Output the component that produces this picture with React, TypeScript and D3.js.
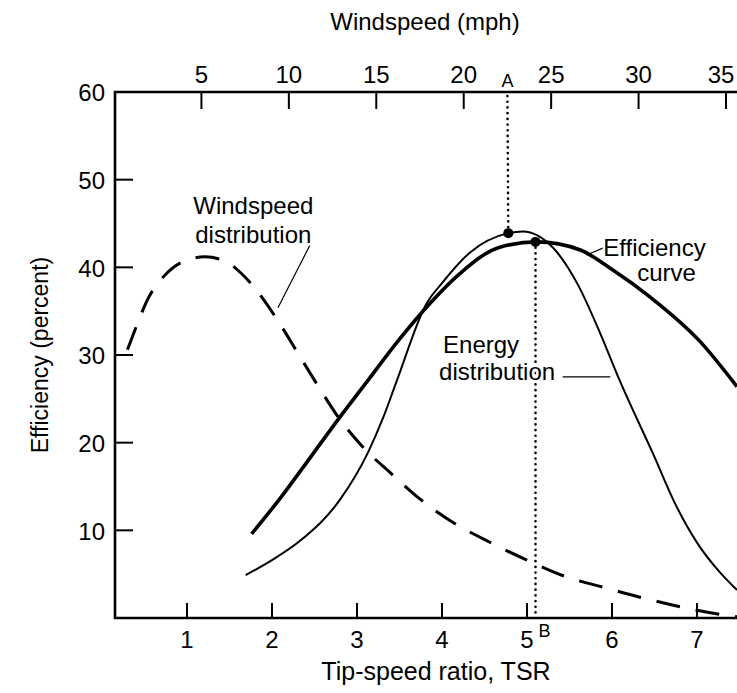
import React from 'react';
import * as d3 from 'd3';

// chart data
const topTicks = [5, 10, 15, 20, 25, 30, 35];
const bottomTicks = [1, 2, 3, 4, 5, 6, 7];
const yTicks = [10, 20, 30, 40, 50, 60];

// Efficiency curve (thick solid)
const effTsr = [1.76, 2.1, 2.45, 2.79, 3.12, 3.5, 3.86, 4.2, 4.68, 5.12, 5.62, 6.01, 6.45, 7.04, 7.47];
const effVal = [9.6, 13.7, 18.3, 22.8, 27.0, 31.8, 35.9, 39.2, 42.3, 42.9, 42.0, 39.7, 36.6, 31.5, 26.4];

// Energy distribution (thin solid)
const enTsr = [1.69, 2.0, 2.33, 2.8, 3.13, 3.31, 3.47, 3.82, 4.0, 4.33, 4.78, 4.95, 5.31, 5.6, 5.86, 6.09, 6.48, 6.76, 7.0, 7.27, 7.47];
const enVal = [4.9, 6.6, 8.8, 13.5, 18.9, 22.9, 27.1, 35.9, 38.2, 41.7, 43.9, 44.1, 42.2, 38.0, 32.5, 27.1, 18.8, 12.7, 8.6, 5.2, 3.2];

// Windspeed distribution (dashed)
const wsTsr = [0.3, 0.41, 0.54, 0.74, 0.99, 1.21, 1.47, 1.64, 1.8, 2.07, 2.33, 2.54, 2.78, 3.06, 3.4, 3.75, 4.13, 4.55, 5.0, 5.46, 5.94, 6.4, 6.89, 7.35, 7.5];
const wsVal = [30.6, 33.4, 36.4, 39.1, 40.8, 41.2, 40.6, 39.3, 37.6, 33.9, 29.8, 26.5, 22.9, 19.6, 16.5, 13.5, 10.9, 8.7, 6.6, 4.7, 3.4, 2.2, 1.1, 0.3, 0.1];

// design points
const pointA = { tsr: 4.78, eff: 43.9, mph: 22.5 };
const pointB = { tsr: 5.1, eff: 42.9 };

const W = 737;
const H = 693;
const left = 115;
const right = 737;
const font = '"Liberation Sans", Arial, Helvetica, sans-serif';

function App() {
  const x = d3.scaleLinear().domain([0, 7]).range([102, 697]);
  const mph = d3.scaleLinear().domain([0, 35]).range([114, 726]);
  const y = d3.scaleLinear().domain([0, 60]).range([618, 92]);

  const line = d3.line<[number, number]>()
    .x(d => x(d[0]))
    .y(d => y(d[1]))
    .curve(d3.curveMonotoneX);

  const eff = line(effTsr.map((t, i) => [t, effVal[i]]))!;
  const en = line(enTsr.map((t, i) => [t, enVal[i]]))!;
  const ws = line(wsTsr.map((t, i) => [t, wsVal[i]]))!;

  const top = y(60);
  const bottom = y(0);

  const annotations = [
    { lines: ['Windspeed', 'distribution'], tsr: 1.78, eff: 47.0, dy: 29 },
    { lines: ['Efficiency', 'curve'], tsr: 6.5, eff: 42.2, dy: 25, shift: [0, 12] },
    { lines: ['Energy', 'distribution'], tsr: 4.46, eff: 31.1, dy: 27, shift: [0, 16] },
  ];
  const leaders: [number, number][][] = [
    [[2.45, 42.6], [2.07, 35.4]],
    [[5.7, 41.4], [5.92, 42.3]],
    [[5.42, 27.5], [5.98, 27.5]],
  ];

  return (
    <svg width={W} height={H} style={{ position: 'absolute', left: 0, top: 0, background: '#fff' }}
      fontFamily={font}>
      <rect x={0} y={0} width={W} height={H} fill="#fff" />
      {/* frame */}
      <path d={`M${right},${top}H${left}V${bottom}H${right}`} fill="none" stroke="#000" strokeWidth={2.6} />

      {/* left ticks */}
      {yTicks.map(t => (
        <g key={'y' + t}>
          {t < 60 && <line x1={left} x2={left + 18} y1={y(t)} y2={y(t)} stroke="#000" strokeWidth={2} />}
          <text x={left - 10} y={y(t) + 3} textAnchor="end" dominantBaseline="middle" fontSize={24}>{t}</text>
        </g>
      ))}

      {/* bottom ticks */}
      {bottomTicks.map(t => (
        <g key={'b' + t}>
          <line x1={x(t)} x2={x(t)} y1={bottom} y2={bottom - 15} stroke="#000" strokeWidth={2} />
          <text x={x(t)} y={648} textAnchor="middle" fontSize={24}>{t}</text>
        </g>
      ))}
      <text x={x(pointB.tsr) + 9} y={637} textAnchor="middle" fontSize={18}>B</text>

      {/* top ticks */}
      {topTicks.map(t => (
        <g key={'t' + t}>
          <line x1={mph(t)} x2={mph(t)} y1={top} y2={top + 17} stroke="#000" strokeWidth={2} />
          <text x={Math.min(mph(t), 721)} y={83} textAnchor="middle" fontSize={24}>{t}</text>
        </g>
      ))}
      <text x={mph(pointA.mph)} y={87} textAnchor="middle" fontSize={18}>A</text>

      {/* axis titles */}
      <text x={425} y={30} textAnchor="middle" fontSize={24}>Windspeed (mph)</text>
      <text x={436} y={680} textAnchor="middle" fontSize={25}>Tip-speed ratio, TSR</text>
      <text transform={`translate(48,355) rotate(-90)`} textAnchor="middle" fontSize={23}>Efficiency (percent)</text>

      {/* dotted guide lines */}
      <line x1={mph(pointA.mph)} x2={x(pointA.tsr)} y1={top + 4} y2={y(pointA.eff)}
        stroke="#000" strokeWidth={2.6} strokeDasharray="0.1 5.6" strokeLinecap="round" />
      <line x1={x(pointB.tsr)} x2={x(pointB.tsr)} y1={y(pointB.eff)} y2={bottom}
        stroke="#000" strokeWidth={2.6} strokeDasharray="0.1 5.6" strokeLinecap="round" />

      {/* curves */}
      <path d={ws} fill="none" stroke="#000" strokeWidth={3} strokeDasharray="24 16" />
      <path d={en} fill="none" stroke="#000" strokeWidth={2} />
      <path d={eff} fill="none" stroke="#000" strokeWidth={3.6} />

      <circle cx={x(pointA.tsr)} cy={y(pointA.eff)} r={5} fill="#000" />
      <circle cx={x(pointB.tsr)} cy={y(pointB.eff)} r={5} fill="#000" />

      {/* annotations */}
      {leaders.map((l, i) => (
        <line key={'l' + i} x1={x(l[0][0])} y1={y(l[0][1])} x2={x(l[1][0])} y2={y(l[1][1])}
          stroke="#000" strokeWidth={1.2} />
      ))}
      {annotations.map((a, i) => (
        <g key={'a' + i}>
          {a.lines.map((s, j) => (
            <text key={j} x={x(a.tsr) + (a.shift ? a.shift[j] : 0)} y={y(a.eff) + 8 + j * a.dy}
              textAnchor="middle" fontSize={24} stroke="#fff" strokeWidth={5} paintOrder="stroke"
              fill="#000">{s}</text>
          ))}
        </g>
      ))}
    </svg>
  );
}

export default App;
